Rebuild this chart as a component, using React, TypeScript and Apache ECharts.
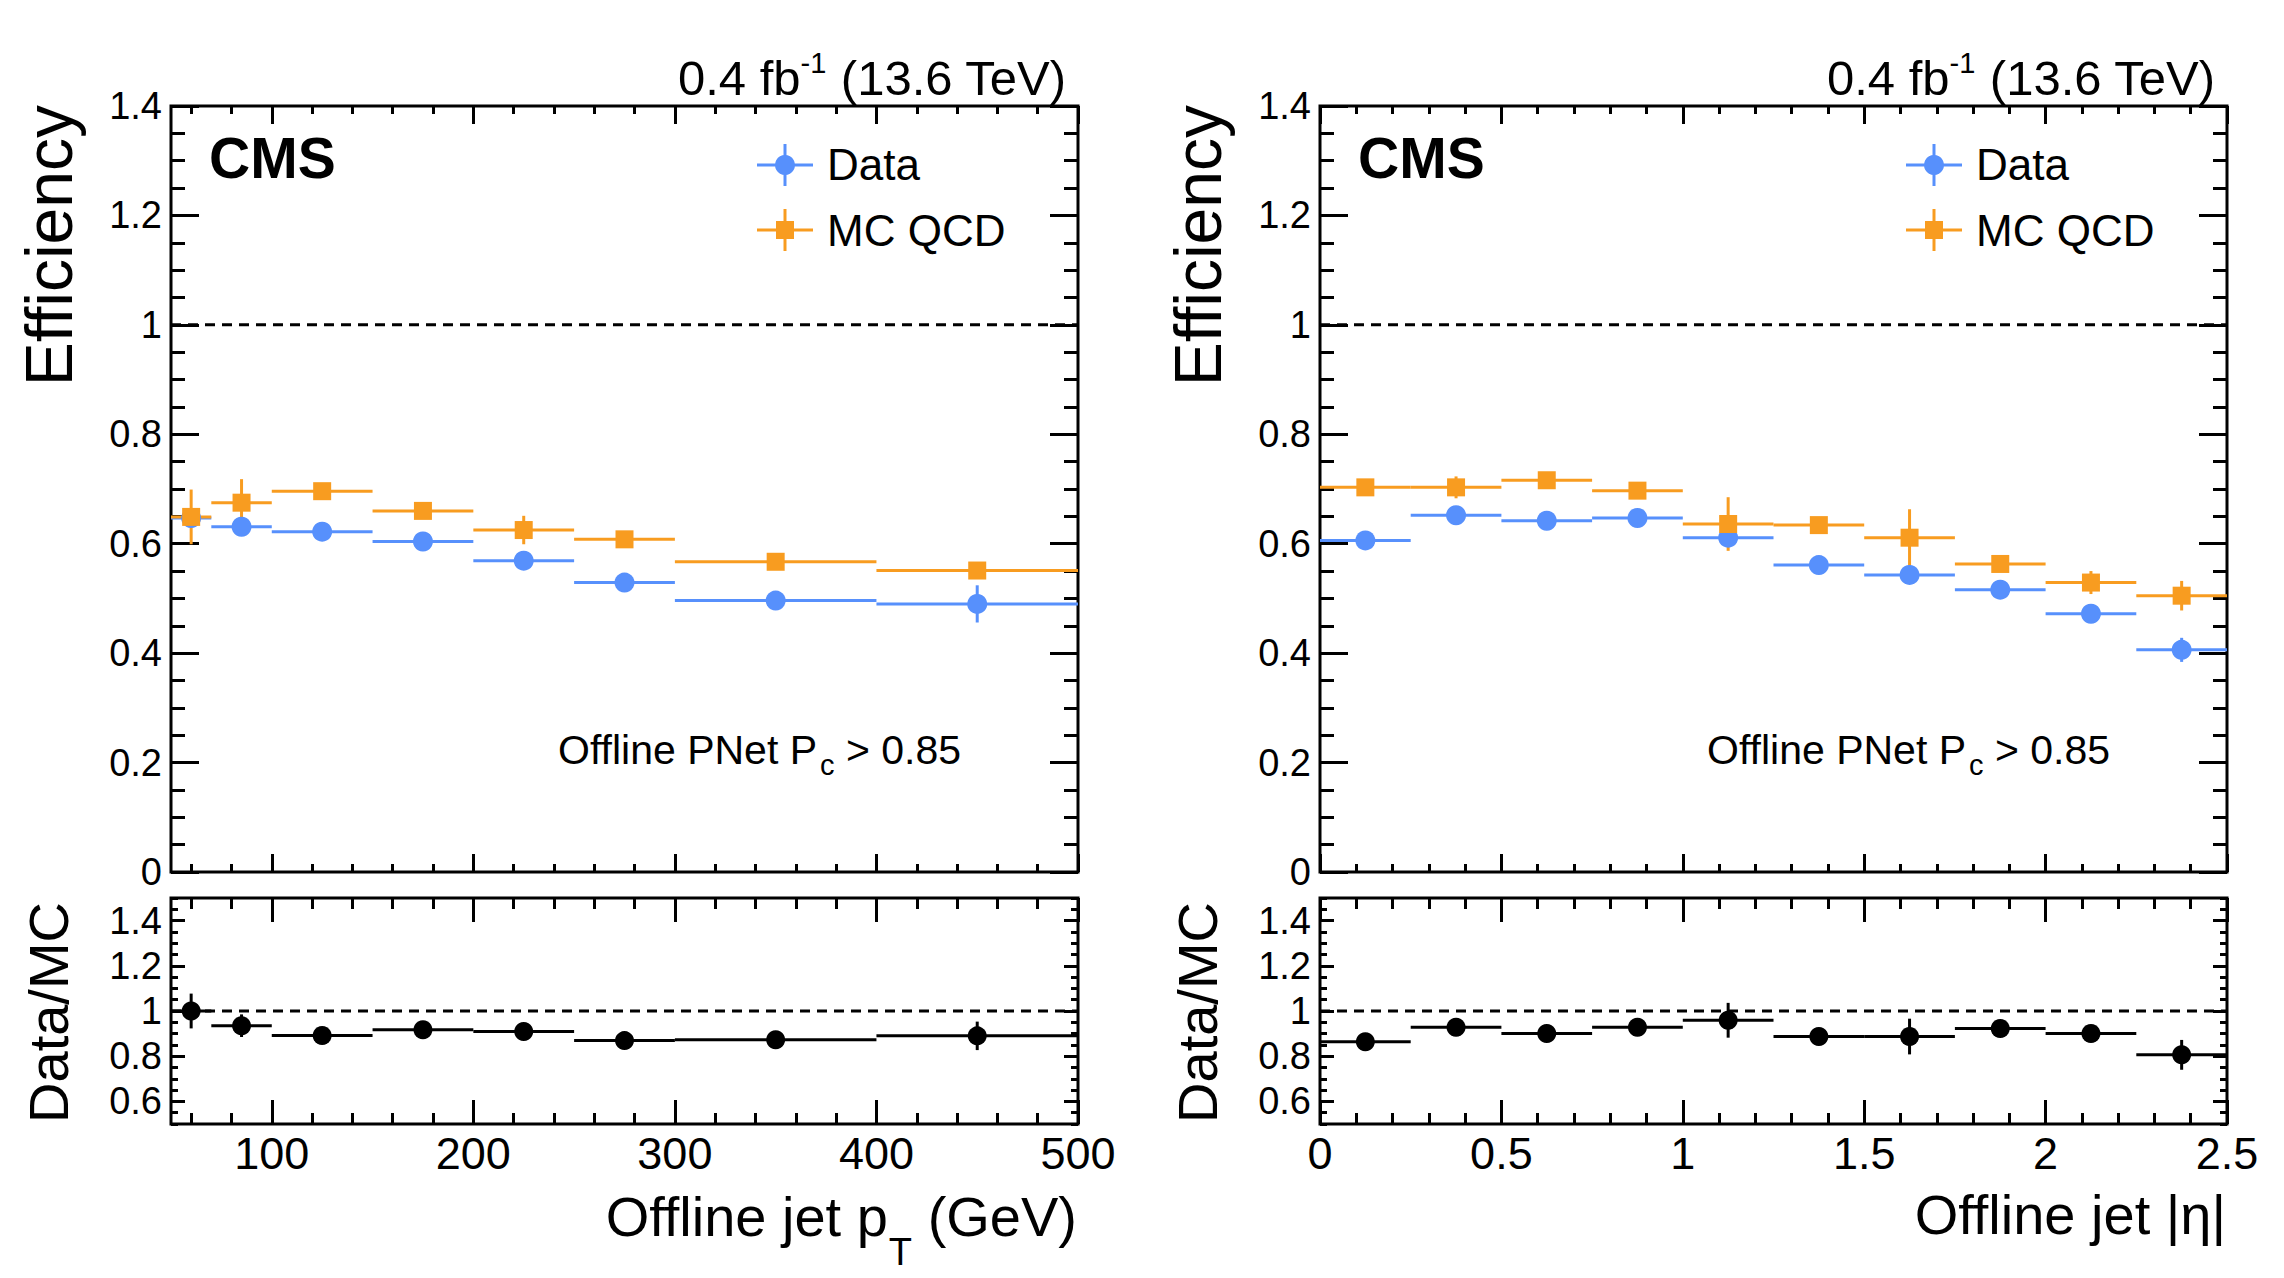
import { useEffect, useRef } from 'react'
import * as echarts from 'echarts'

const FONT = '"Liberation Sans", Arial, Helvetica, sans-serif'
const BLUE = '#5790fc'
const ORANGE = '#f89c20'

// pT binning (GeV)
const PT_EDGES = [50, 70, 100, 150, 200, 250, 300, 400, 500]
const PT_DATA = [0.647, 0.631, 0.622, 0.604, 0.569, 0.529, 0.496, 0.49]
const PT_DATA_ERR = [0.006, 0.006, 0.005, 0.005, 0.006, 0.006, 0.006, 0.034]
const PT_MC = [0.649, 0.675, 0.696, 0.66, 0.625, 0.608, 0.567, 0.551]
const PT_MC_ERR = [0.05, 0.043, 0.01, 0.01, 0.026, 0.01, 0.008, 0.008]
const PT_RATIO = [1.0, 0.935, 0.892, 0.917, 0.909, 0.869, 0.873, 0.89]
const PT_RATIO_ERR = [0.077, 0.05, 0.012, 0.012, 0.03, 0.015, 0.012, 0.063]

// |eta| binning
const ETA_EDGES = [0, 0.25, 0.5, 0.75, 1, 1.25, 1.5, 1.75, 2, 2.25, 2.5]
const ETA_DATA = [0.606, 0.652, 0.642, 0.647, 0.611, 0.561, 0.543, 0.516, 0.472, 0.406]
const ETA_DATA_ERR = [0.006, 0.006, 0.006, 0.006, 0.01, 0.006, 0.008, 0.006, 0.008, 0.022]
const ETA_MC = [0.703, 0.703, 0.716, 0.697, 0.636, 0.634, 0.611, 0.563, 0.529, 0.505]
const ETA_MC_ERR = [0.008, 0.02, 0.01, 0.01, 0.049, 0.01, 0.052, 0.01, 0.021, 0.027]
const ETA_RATIO = [0.864, 0.928, 0.9, 0.928, 0.959, 0.887, 0.887, 0.923, 0.9, 0.806]
const ETA_RATIO_ERR = [0.012, 0.012, 0.012, 0.012, 0.077, 0.015, 0.079, 0.015, 0.03, 0.066]

// axis ticks
const PT_TICKS = [100, 200, 300, 400, 500]
const ETA_TICKS = [0, 0.5, 1, 1.5, 2, 2.5]
const EFF_TICKS = [0, 0.2, 0.4, 0.6, 0.8, 1, 1.2, 1.4]
const RATIO_TICKS = [0.6, 0.8, 1, 1.2, 1.4]

const PANEL_LEFT = [171, 1320]
const PANEL_WIDTH = 907
const SHIFT = PANEL_LEFT[1] - PANEL_LEFT[0]
const MAIN_TOP = 106
const MAIN_HEIGHT = 766
const RATIO_TOP = 898
const RATIO_HEIGHT = 226

const ctx = document.createElement('canvas').getContext('2d') as CanvasRenderingContext2D
function tw(s: string, size: number, weight = 'normal') {
  ctx.font = `${weight} ${size}px "Liberation Sans"`
  return ctx.measureText(s).width
}

// text placed by its alphabetic baseline
function txt(s: string, x: number, baseline: number, size: number, align = 'left', weight = 'normal') {
  return {
    type: 'text',
    x,
    y: baseline - 0.3465 * size,
    silent: true,
    style: { text: s, fontSize: size, fontFamily: FONT, fontWeight: weight, fill: '#000', align, verticalAlign: 'middle' },
  }
}

function vtxt(s: string, baselineX: number, top: number, size: number) {
  return {
    type: 'text',
    x: baselineX - 0.3465 * size,
    y: top,
    rotation: Math.PI / 2,
    silent: true,
    style: { text: s, fontSize: size, fontFamily: FONT, fill: '#000', align: 'right', verticalAlign: 'middle' },
  }
}

function subdivide(major: number[], n: number, min: number, max: number) {
  const step = (major[1] - major[0]) / n
  const out: number[] = []
  for (let v = major[0] - step; v >= min - 1e-9; v -= step) out.push(Math.round(v * 1e6) / 1e6)
  for (let k = 1; major[0] + k * step <= max + 1e-9; k++) {
    if (k % n !== 0) out.push(Math.round((major[0] + k * step) * 1e6) / 1e6)
  }
  return out
}

interface AxisSpec {
  min: number
  max: number
  major: number[]
  minor: number[]
  majorLen: number
  minorLen: number
  labels: boolean
  labelSize?: number
  labelMargin?: number
}

function makeAxes(dim: 'x' | 'y', grid: number, s: AxisSpec) {
  const sides = dim === 'x' ? ['bottom', 'top'] : ['left', 'right']
  const out: any[] = []
  sides.forEach((pos, si) => {
    const sets: [number[], number][] = [
      [s.major, s.majorLen],
      [s.minor, s.minorLen],
    ]
    sets.forEach(([vals, len], ti) => {
      const labelled = si === 0 && ti === 0 && s.labels
      out.push({
        type: 'value',
        gridIndex: grid,
        position: pos,
        min: s.min,
        max: s.max,
        axisLine: { show: false, onZero: false },
        splitLine: { show: false },
        axisTick: { show: true, inside: true, length: len, customValues: vals, lineStyle: { color: '#000', width: 3 } },
        axisLabel: labelled
          ? { show: true, customValues: vals, color: '#000', fontFamily: FONT, fontSize: s.labelSize, margin: s.labelMargin }
          : { show: false },
      })
    })
  })
  return out
}

function binSeries(axisIdx: number, edges: number[], vals: number[], errs: number[], color: string, symbol: string, size: number) {
  const rows = vals.map((v, i) => [(edges[i] + edges[i + 1]) / 2, v, edges[i], edges[i + 1], errs[i]])
  return [
    {
      type: 'custom',
      xAxisIndex: axisIdx,
      yAxisIndex: axisIdx,
      silent: true,
      data: rows,
      encode: { x: 0, y: 1 },
      renderItem: (_p: any, api: any) => {
        const xc = api.value(0)
        const y = api.value(1)
        const lo = api.value(2)
        const hi = api.value(3)
        const e = api.value(4)
        const a = api.coord([lo, y])
        const b = api.coord([hi, y])
        const t = api.coord([xc, y + e])
        const d = api.coord([xc, y - e])
        const st = { stroke: color, lineWidth: 3 }
        return {
          type: 'group',
          children: [
            { type: 'line', shape: { x1: a[0], y1: a[1], x2: b[0], y2: b[1] }, style: st },
            { type: 'line', shape: { x1: t[0], y1: t[1], x2: d[0], y2: d[1] }, style: st },
          ],
        }
      },
    },
    {
      type: 'scatter',
      xAxisIndex: axisIdx,
      yAxisIndex: axisIdx,
      silent: true,
      symbol,
      symbolSize: size,
      itemStyle: { color, opacity: 1 },
      data: rows.map((r) => [r[0], r[1]]),
    },
  ]
}

function unityLine(axisIdx: number, xmin: number, xmax: number) {
  return {
    type: 'line',
    xAxisIndex: axisIdx,
    yAxisIndex: axisIdx,
    silent: true,
    symbol: 'none',
    lineStyle: { color: '#000', width: 3, type: [10, 7] },
    data: [
      [xmin, 1],
      [xmax, 1],
    ],
  }
}

function panelText(dx: number, xTitle: 'pt' | 'eta') {
  const els: any[] = []
  // lumi label
  const lumiEnd = 1066 + dx
  const w3 = tw(' (13.6 TeV)', 49)
  const w2 = tw('-1', 29)
  els.push(txt(' (13.6 TeV)', lumiEnd, 95, 49, 'right'))
  els.push(txt('-1', lumiEnd - w3, 73, 29, 'right'))
  els.push(txt('0.4 fb', lumiEnd - w3 - w2, 95, 49, 'right'))
  // CMS
  els.push(txt('CMS', 209 + dx, 178, 57, 'left', 'bold'))
  // legend
  const lx = 785 + dx
  const rows: [number, number, string, string][] = [
    [165, 180, 'Data', BLUE],
    [230, 246, 'MC QCD', ORANGE],
  ]
  rows.forEach(([cy, base, label, color], i) => {
    const st = { stroke: color, lineWidth: 3 }
    els.push({ type: 'line', silent: true, shape: { x1: lx - 28, y1: cy, x2: lx + 28, y2: cy }, style: st })
    els.push({ type: 'line', silent: true, shape: { x1: lx, y1: cy - 21, x2: lx, y2: cy + 21 }, style: st })
    if (i === 0) els.push({ type: 'circle', silent: true, shape: { cx: lx, cy, r: 10 }, style: { fill: color } })
    else els.push({ type: 'rect', silent: true, shape: { x: lx - 9, y: cy - 9, width: 18, height: 18 }, style: { fill: color } })
    els.push(txt(label, 827 + dx, base, 44))
  })
  // selection label
  const sx = 558 + dx
  const m1 = 'Offline PNet P'
  const w1 = tw(m1, 41)
  els.push(txt(m1, sx, 764, 41))
  els.push(txt('c', sx + w1 + 3, 775, 29))
  els.push(txt(' > 0.85', sx + w1 + 3 + tw('c', 29), 764, 41))
  // y titles
  els.push(vtxt('Efficiency', 72 + dx, 105, 66))
  els.push(vtxt('Data/MC', 68 + dx, 902, 56))
  // x title
  const xEnd = 1077 + dx
  if (xTitle === 'pt') {
    const wa = tw(' (GeV)', 56)
    const wb = tw('T', 38)
    els.push(txt(' (GeV)', xEnd, 1236, 56, 'right'))
    els.push(txt('T', xEnd - wa, 1265, 38, 'right'))
    els.push(txt('Offline jet p', xEnd - wa - wb - 1, 1236, 56, 'right'))
  } else {
    els.push(txt('Offline jet |\u03b7|', xEnd, 1234, 56, 'right'))
  }
  return els
}

export default function App() {
  const chartRef = useRef<HTMLDivElement>(null)

  useEffect(() => {
    if (!chartRef.current) return
    const chart = echarts.init(chartRef.current, undefined, { renderer: 'svg' })

    const grids = [
      [PANEL_LEFT[0], MAIN_TOP, MAIN_HEIGHT],
      [PANEL_LEFT[0], RATIO_TOP, RATIO_HEIGHT],
      [PANEL_LEFT[1], MAIN_TOP, MAIN_HEIGHT],
      [PANEL_LEFT[1], RATIO_TOP, RATIO_HEIGHT],
    ].map(([left, top, height]) => ({
      left,
      top,
      width: PANEL_WIDTH,
      height,
      show: true,
      borderColor: '#000',
      borderWidth: 3,
      backgroundColor: 'transparent',
      containLabel: false,
      outerBoundsMode: 'none',
    }))

    const ptMinor = subdivide(PT_TICKS, 5, 50, 500)
    const etaMinor = subdivide(ETA_TICKS, 5, 0, 2.5)
    const effMinor = subdivide(EFF_TICKS, 4, 0, 1.4)
    const ratioMinor = subdivide(RATIO_TICKS, 4, 0.5, 1.5)

    const xAxes = [
      ...makeAxes('x', 0, { min: 50, max: 500, major: PT_TICKS, minor: ptMinor, majorLen: 18, minorLen: 8, labels: false }),
      ...makeAxes('x', 1, { min: 50, max: 500, major: PT_TICKS, minor: ptMinor, majorLen: 24, minorLen: 11, labels: true, labelSize: 45, labelMargin: 7 }),
      ...makeAxes('x', 2, { min: 0, max: 2.5, major: ETA_TICKS, minor: etaMinor, majorLen: 18, minorLen: 8, labels: false }),
      ...makeAxes('x', 3, { min: 0, max: 2.5, major: ETA_TICKS, minor: etaMinor, majorLen: 24, minorLen: 11, labels: true, labelSize: 45, labelMargin: 7 }),
    ]
    const mainY: AxisSpec = { min: 0, max: 1.4, major: EFF_TICKS, minor: effMinor, majorLen: 28, minorLen: 14, labels: true, labelSize: 38, labelMargin: 9 }
    const ratioY: AxisSpec = { min: 0.5, max: 1.5, major: RATIO_TICKS, minor: ratioMinor, majorLen: 14, minorLen: 7, labels: true, labelSize: 38, labelMargin: 9 }
    const yAxes = [...makeAxes('y', 0, mainY), ...makeAxes('y', 1, ratioY), ...makeAxes('y', 2, mainY), ...makeAxes('y', 3, ratioY)]

    const series = [
      unityLine(0, 50, 500),
      ...binSeries(0, PT_EDGES, PT_DATA, PT_DATA_ERR, BLUE, 'circle', 20),
      ...binSeries(0, PT_EDGES, PT_MC, PT_MC_ERR, ORANGE, 'rect', 18),
      unityLine(4, 50, 500),
      ...binSeries(4, PT_EDGES, PT_RATIO, PT_RATIO_ERR, '#000', 'circle', 19),
      unityLine(8, 0, 2.5),
      ...binSeries(8, ETA_EDGES, ETA_DATA, ETA_DATA_ERR, BLUE, 'circle', 20),
      ...binSeries(8, ETA_EDGES, ETA_MC, ETA_MC_ERR, ORANGE, 'rect', 18),
      unityLine(12, 0, 2.5),
      ...binSeries(12, ETA_EDGES, ETA_RATIO, ETA_RATIO_ERR, '#000', 'circle', 19),
    ]

    chart.setOption({
      animation: false,
      backgroundColor: '#fff',
      textStyle: { fontFamily: FONT },
      grid: grids,
      xAxis: xAxes,
      yAxis: yAxes,
      series,
      graphic: { elements: [...panelText(0, 'pt'), ...panelText(SHIFT, 'eta')] },
    })

    return () => {
      chart.dispose()
    }
  }, [])

  return (
    <div
      ref={chartRef}
      style={{
        position: 'absolute',
        left: 0,
        top: 0,
        width: 2284,
        height: 1278,
        background: '#fff',
      }}
    />
  )
}
